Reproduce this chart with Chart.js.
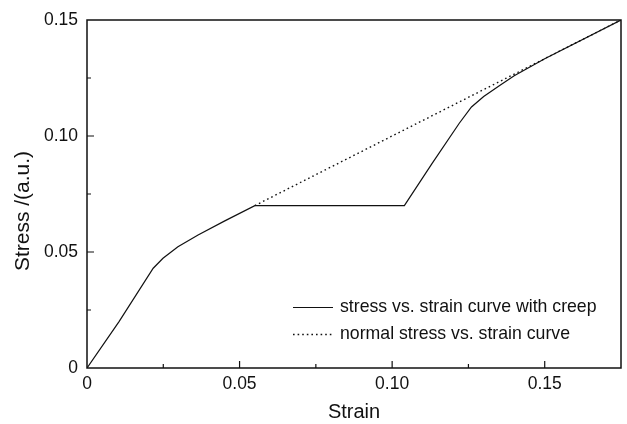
<!DOCTYPE html>
<html>
<head>
<meta charset="utf-8">
<title>Stress vs strain</title>
<script src="https://cdn.jsdelivr.net/npm/chart.js@4.4.0/dist/chart.umd.min.js"></script>
<style>
  html, body { margin: 0; padding: 0; background: #fff; }
  #wrap { width: 627px; height: 424px; }
</style>
</head>
<body>
<div id="wrap"><canvas id="canvas" width="627" height="424"></canvas></div>
<script>
// values
var creepStrain = [0, 0.0105, 0.0217, 0.0249, 0.0298, 0.0364, 0.045, 0.055, 0.104, 0.113, 0.122, 0.126, 0.130, 0.135, 0.140, 0.150, 0.175];
var creepStress = [0, 0.0200, 0.043, 0.0473, 0.0523, 0.0573, 0.0633, 0.070, 0.070, 0.088, 0.1055, 0.1125, 0.117, 0.1215, 0.126, 0.1333, 0.150];
var normalStrain = [0.055, 0.175];
var normalStress = [0.070, 0.150];
var xTicks = [0, 0.05, 0.10, 0.15];
var yTicks = [0, 0.05, 0.10, 0.15];
var seriesNames = ["stress vs. strain curve with creep", "normal stress vs. strain curve"];
var yTitle = "Stress /(a.u.)";

var FONT = '"Liberation Sans", Arial, Helvetica, sans-serif';

function toPoints(xs, ys) {
  var pts = [];
  for (var i = 0; i < xs.length; i++) pts.push({ x: xs[i], y: ys[i] });
  return pts;
}

function tickLabel(v) {
  return v === 0 ? "0" : v.toFixed(2);
}

/* frame + inward major/minor ticks on the bottom and left axes */
var framePlugin = {
  id: "frame",
  afterDatasetsDraw: function (chart) {
    var ctx = chart.ctx, a = chart.chartArea;
    var xs = chart.scales.x, ys = chart.scales.y;
    ctx.save();
    ctx.strokeStyle = "#111";
    ctx.lineWidth = 1.5;
    ctx.strokeRect(a.left, a.top, a.right - a.left, a.bottom - a.top);
    ctx.lineWidth = 1.2;
    ctx.beginPath();
    for (var v = 0; v <= 0.175 + 1e-9; v += 0.025) {
      var major = Math.abs(v / 0.05 - Math.round(v / 0.05)) < 1e-6;
      var len = major ? 7 : 4;
      var px = xs.getPixelForValue(v);
      if (px > a.left + 1 && px < a.right - 1) {
        ctx.moveTo(px, a.bottom);
        ctx.lineTo(px, a.bottom - len);
      }
      if (v <= 0.15 + 1e-9) {
        var py = ys.getPixelForValue(v);
        if (py > a.top + 1 && py < a.bottom - 1) {
          ctx.moveTo(a.left, py);
          ctx.lineTo(a.left + len, py);
        }
      }
    }
    ctx.stroke();

    // y title, sitting a bit below the middle like the original
    ctx.translate(23, 211);
    ctx.rotate(-Math.PI / 2);
    ctx.font = "21px " + FONT;
    ctx.fillStyle = "#111";
    ctx.textAlign = "center";
    ctx.textBaseline = "middle";
    ctx.fillText(yTitle, 0, 0);
    ctx.restore();
  }
};

/* legend drawn inside the plot, lower right */
var innerLegend = {
  id: "innerLegend",
  afterDraw: function (chart) {
    var ctx = chart.ctx;
    var x0 = 293, x1 = 333, tx = 340;
    var rows = [307, 334];
    ctx.save();
    ctx.font = "17.7px " + FONT;
    ctx.fillStyle = "#111";
    ctx.textBaseline = "middle";
    chart.data.datasets.forEach(function (ds, i) {
      ctx.beginPath();
      ctx.strokeStyle = ds.borderColor;
      ctx.lineWidth = ds.borderWidth;
      ctx.setLineDash(ds.borderDash || []);
      ctx.moveTo(x0, rows[i] + 0.5);
      ctx.lineTo(x1, rows[i] + 0.5);
      ctx.stroke();
      ctx.fillText(ds.label, tx, rows[i]);
    });
    ctx.restore();
  }
};

var chartData = {
  datasets: [
    {
      label: seriesNames[0],
      data: toPoints(creepStrain, creepStress),
      showLine: true,
      borderColor: "#111",
      borderWidth: 1.2,
      pointRadius: 0,
      tension: 0
    },
    {
      label: seriesNames[1],
      data: toPoints(normalStrain, normalStress),
      showLine: true,
      borderColor: "#111",
      borderWidth: 1.4,
      borderDash: [1.6, 3],
      pointRadius: 0,
      tension: 0
    }
  ]
};

var options = {
  responsive: false,
  animation: false,
  layout: { padding: { top: 20, right: 6, left: 0, bottom: 0 } },
  plugins: { legend: { display: false }, tooltip: { enabled: false } },
  scales: {
    x: {
      type: "linear",
      min: 0,
      max: 0.175,
      grid: { display: false, drawTicks: false },
      border: { display: false },
      afterFit: function (s) { s.height = 56; },
      afterBuildTicks: function (s) { s.ticks = xTicks.map(function (v) { return { value: v }; }); },
      ticks: {
        padding: 6,
        color: "#111",
        font: { family: FONT, size: 17.5 },
        maxRotation: 0,
        callback: tickLabel
      },
      title: {
        display: true,
        text: "Strain",
        color: "#111",
        font: { family: FONT, size: 20 },
        padding: { top: 2, bottom: 0 }
      }
    },
    y: {
      type: "linear",
      min: 0,
      max: 0.15,
      grid: { display: false, drawTicks: false },
      border: { display: false },
      afterFit: function (s) { s.width = 87; },
      afterBuildTicks: function (s) { s.ticks = yTicks.map(function (v) { return { value: v }; }); },
      ticks: {
        padding: 9,
        color: "#111",
        font: { family: FONT, size: 17.5 },
        callback: tickLabel
      },
      title: { display: false }
    }
  }
};

var chart = new Chart(document.getElementById("canvas").getContext("2d"), {
  type: "scatter",
  data: chartData,
  options: options,
  plugins: [framePlugin, innerLegend]
});
</script>
</body>
</html>
